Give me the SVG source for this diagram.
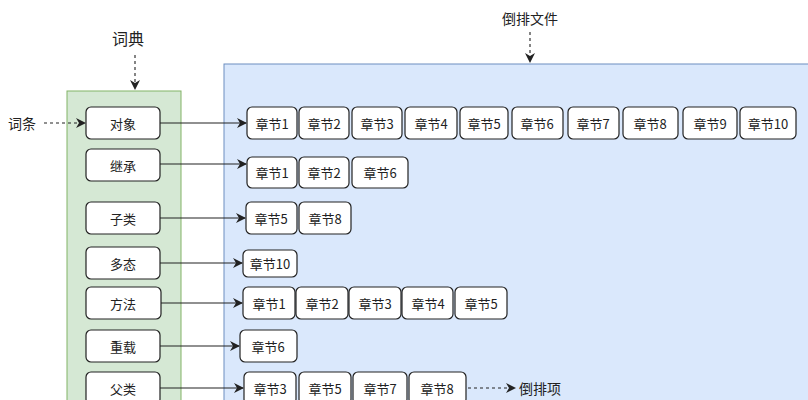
<svg xmlns="http://www.w3.org/2000/svg" width="808" height="400" viewBox="0 0 808 400">
<style>
text{font-family:"Noto Sans CJK SC","Liberation Sans",sans-serif;fill:#222;text-anchor:middle;dominant-baseline:central}
.n rect{fill:#fff;stroke:#222;stroke-width:1.2}
.n text{font-size:13px}
.c line{stroke:#222;stroke-width:1.1}
.d{stroke-dasharray:3 3}
.lbl{font-size:14px}
</style>
<defs><marker id="a" markerWidth="10" markerHeight="10" refX="9" refY="5" orient="auto" markerUnits="userSpaceOnUse"><path d="M0,0 L10,5 L0,10 L3,5 Z" fill="#222"/></marker></defs>
<rect x="67" y="91" width="114" height="320" fill="#d5e8d4" stroke="#82b366"/>
<rect x="224" y="64" width="590" height="350" fill="#dae8fc" stroke="#6c8ebf"/>
<text x="128" y="38" class="lbl" style="font-size:16px">词典</text>
<text x="530" y="18" class="lbl">倒排文件</text>
<text x="22" y="123" class="lbl">词条</text>
<text x="540" y="388" class="lbl">倒排项</text>
<g class="c">
<line x1="135" y1="55" x2="135" y2="89" class="d" marker-end="url(#a)"/>
<line x1="530" y1="32" x2="530" y2="62" class="d" marker-end="url(#a)"/>
<line x1="44" y1="123" x2="85" y2="123" class="d" marker-end="url(#a)"/>
<line x1="468" y1="388" x2="515" y2="388" class="d" marker-end="url(#a)"/>
<line x1="160" y1="123" x2="246" y2="123" marker-end="url(#a)"/>
<line x1="160" y1="164" x2="246" y2="164" marker-end="url(#a)"/>
<line x1="160" y1="218" x2="245" y2="218" marker-end="url(#a)"/>
<line x1="160" y1="263" x2="242" y2="263" marker-end="url(#a)"/>
<line x1="161" y1="303" x2="242" y2="303" marker-end="url(#a)"/>
<line x1="160" y1="346" x2="239" y2="346" marker-end="url(#a)"/>
<line x1="160" y1="388" x2="243" y2="388" marker-end="url(#a)"/>
</g>
<g id="t1" class="n"><rect x="86" y="107" width="74" height="32" rx="5"/><text x="123" y="123">对象</text></g>
<g id="t2" class="n"><rect x="86" y="149" width="74" height="32" rx="5"/><text x="123" y="165">继承</text></g>
<g id="t3" class="n"><rect x="86" y="202" width="74" height="32" rx="5"/><text x="123" y="218">子类</text></g>
<g id="t4" class="n"><rect x="86" y="247" width="74" height="32" rx="5"/><text x="123" y="263">多态</text></g>
<g id="t5" class="n"><rect x="86" y="287" width="75" height="32" rx="5"/><text x="123" y="303">方法</text></g>
<g id="t6" class="n"><rect x="86" y="330" width="74" height="32" rx="5"/><text x="123" y="346">重载</text></g>
<g id="t7" class="n"><rect x="86" y="372" width="74" height="32" rx="5"/><text x="123" y="388">父类</text></g>
<g id="r1" class="n">
<rect x="247" y="107" width="50" height="32" rx="5"/><text x="272" y="123">章节1</text>
<rect x="299" y="107" width="50" height="32" rx="5"/><text x="324" y="123">章节2</text>
<rect x="352" y="107" width="50" height="32" rx="5"/><text x="377" y="123">章节3</text>
<rect x="405" y="107" width="52" height="32" rx="5"/><text x="431" y="123">章节4</text>
<rect x="460" y="107" width="48" height="32" rx="5"/><text x="484" y="123">章节5</text>
<rect x="512" y="107" width="51" height="32" rx="5"/><text x="537" y="123">章节6</text>
<rect x="568" y="107" width="51" height="32" rx="5"/><text x="593" y="123">章节7</text>
<rect x="623" y="107" width="55" height="32" rx="5"/><text x="650" y="123">章节8</text>
<rect x="683" y="107" width="54" height="32" rx="5"/><text x="710" y="123">章节9</text>
<rect x="740" y="107" width="56" height="32" rx="5"/><text x="768" y="123">章节10</text>
</g>
<g id="r2" class="n">
<rect x="247" y="157" width="50" height="31" rx="5"/><text x="272" y="172">章节1</text>
<rect x="299" y="157" width="50" height="31" rx="5"/><text x="324" y="172">章节2</text>
<rect x="352" y="157" width="56" height="31" rx="5"/><text x="380" y="172">章节6</text>
</g>
<g id="r3" class="n">
<rect x="246" y="202" width="51" height="32" rx="5"/><text x="271" y="218">章节5</text>
<rect x="299" y="202" width="52" height="32" rx="5"/><text x="325" y="218">章节8</text>
</g>
<g id="r4" class="n">
<rect x="243" y="250" width="54" height="27" rx="5"/><text x="270" y="263">章节10</text>
</g>
<g id="r5" class="n">
<rect x="243" y="287" width="52" height="32" rx="5"/><text x="269" y="303">章节1</text>
<rect x="296" y="287" width="52" height="32" rx="5"/><text x="322" y="303">章节2</text>
<rect x="349" y="287" width="52" height="32" rx="5"/><text x="375" y="303">章节3</text>
<rect x="402" y="287" width="51" height="32" rx="5"/><text x="428" y="303">章节4</text>
<rect x="455" y="287" width="52" height="32" rx="5"/><text x="481" y="303">章节5</text>
</g>
<g id="r6" class="n">
<rect x="240" y="330" width="57" height="32" rx="5"/><text x="268" y="346">章节6</text>
</g>
<g id="r7" class="n">
<rect x="244" y="372" width="52" height="32" rx="5"/><text x="270" y="388">章节3</text>
<rect x="299" y="372" width="52" height="32" rx="5"/><text x="325" y="388">章节5</text>
<rect x="353" y="372" width="54" height="32" rx="5"/><text x="380" y="388">章节7</text>
<rect x="409" y="372" width="57" height="32" rx="5"/><text x="437" y="388">章节8</text>
</g>
</svg>
